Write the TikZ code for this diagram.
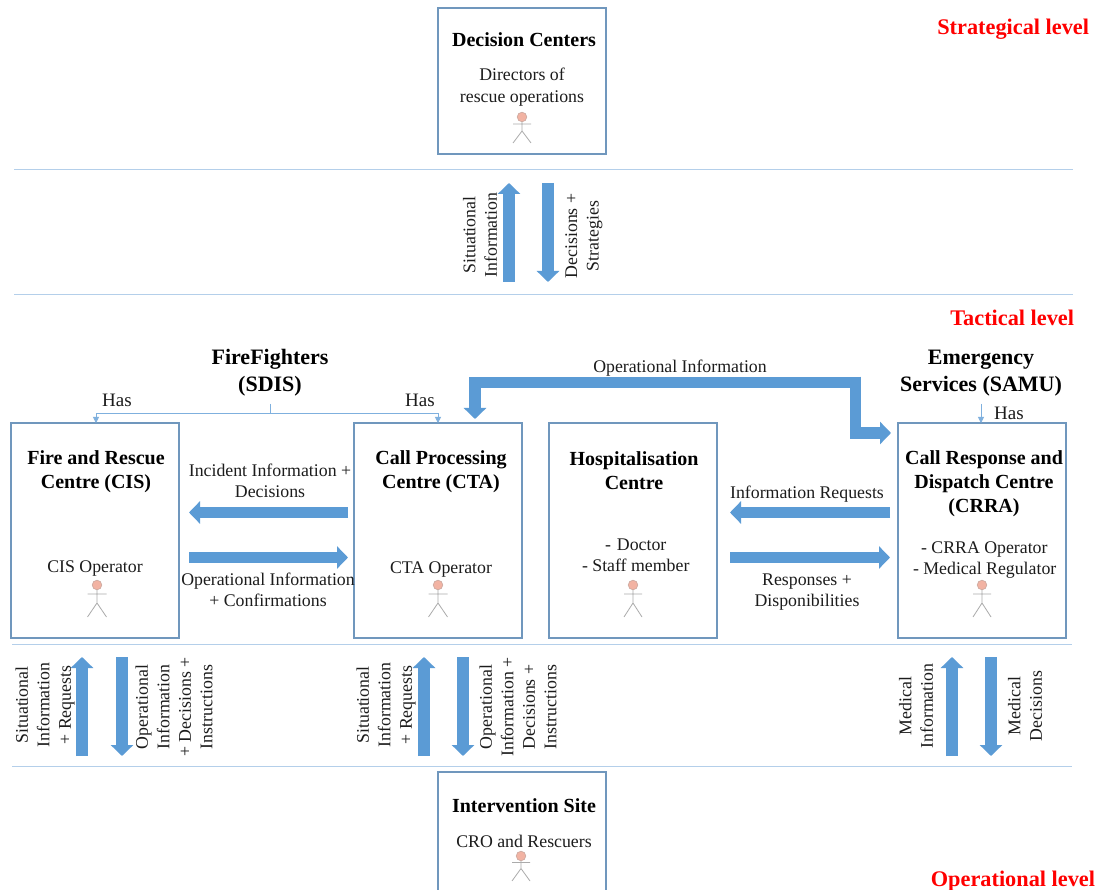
\documentclass[tikz,border=0pt]{standalone}
\usepackage{fontspec}
\setmainfont{Liberation Serif}
\usetikzlibrary{arrows.meta,calc}
\definecolor{blockblue}{HTML}{5B9BD5}
\definecolor{boxedge}{HTML}{7097BD}
\definecolor{sepline}{HTML}{B4CFEA}
\definecolor{thinblue}{HTML}{7FB0DE}
\definecolor{ink}{HTML}{1C1C1C}
\definecolor{headfill}{HTML}{F2B3A3}
\definecolor{headedge}{HTML}{C9A79E}
\definecolor{limb}{HTML}{ABABAB}
\tikzset{
  x=1pt,y=-1pt,
  every node/.style={text=ink,inner sep=0pt,outer sep=0pt},
  box/.style={draw=boxedge,line width=1.2pt,minimum width=168pt,minimum height=215pt,fill=white},
  title/.style={font=\fontsize{20}{24}\selectfont\bfseries,align=center,text=black},
  orgtitle/.style={title,font=\fontsize{22}{27}\selectfont\bfseries},
  txt/.style={font=\fontsize{17.8}{21.5}\selectfont,align=center},
  hastxt/.style={font=\fontsize{19}{22}\selectfont},
  vtxt/.style={txt,rotate=90},
  level/.style={font=\fontsize{22.3}{26}\selectfont\bfseries,text=red,anchor=east},
  sep/.style={draw=sepline,line width=1pt},
  thin link/.style={draw=thinblue,line width=.8pt},
  thin tip/.style={thin link,-{Triangle[length=6pt,width=6pt]}},
  blockarrow/.style={draw=blockblue,line width=11.5pt,-{Triangle[length=11pt,width=22pt]},color=blockblue},
  bendarrow/.style={blockarrow,line join=miter},
}
\newcommand{\actor}[6]{% x, head y, arms dy, hip dy, feet dy, half-width
  \draw[limb,line width=.8pt] (#1,#2) -- (#1,#2+#4) -- (#1-#6,#2+#5) (#1,#2+#4) -- (#1+#6,#2+#5)
     (#1-#6,#2+#3) -- (#1+#6,#2+#3);
  \draw[headedge,fill=headfill,line width=.6pt] (#1,#2) circle (4.8pt);
}
\begin{document}
\begin{tikzpicture}
\clip (0,0) rectangle (1096,890);
\fill[white] (0,0) rectangle (1096,890);
% separators
\coordinate (s1a) at (14,169.5);  \coordinate (s1b) at (1073,169.5);
\coordinate (s2a) at (14,294.5);  \coordinate (s2b) at (1073,294.5);
\coordinate (s3a) at (12,644.5);  \coordinate (s3b) at (1072,644.5);
\coordinate (s4a) at (12,766);  \coordinate (s4b) at (1072,766);
\draw[sep] (s1a) -- (s1b);
\draw[sep] (s2a) -- (s2b);
\draw[sep] (s3a) -- (s3b);
\draw[sep] (s4a) -- (s4b);
% boxes
\node[box,minimum height=146pt] (dc) at (522,81) {};
\node[box] (cis) at (95,530.5) {};
\node[box] (cta) at (438,530.5) {};
\node[box] (hosp) at (633,530.5) {};
\node[box] (crra) at (982,530.5) {};
\node[box,minimum height=146pt] (site) at (522,845) {};
% titles and roles
\node[title] (dct) at (524,40) {Decision Centers};
\node[txt,font=\fontsize{17.8}{22}\selectfont] (dcr) at (522,87) {Directors of\\rescue operations};
\node[title] (cist) at (96,472) {Fire and Rescue\\Centre (CIS)};
\node[txt] (cisr) at (95,569) {CIS Operator};
\node[title] (ctat) at (441,472) {Call Processing\\Centre (CTA)};
\node[txt] (ctar) at (441,570) {CTA Operator};
\node[title] (hospt) at (634,471) {Hospitalisation\\Centre};
\node[txt,align=left,anchor=west] (hospr) at (582,555.5) {\hspace*{23pt}-\hspace{6pt}Doctor\\- Staff member};
\node[title] (crrat) at (984,484) {Call Response and\\Dispatch Centre\\(CRRA)};
\node[txt,align=left,anchor=west] (crrar) at (913,560) {\hspace*{8pt}- CRRA Operator\\- Medical Regulator};
\node[title] (sitet) at (524,806) {Intervention Site};
\node[txt] (siter) at (524,841) {CRO and Rescuers};
% actors
\actor{522}{117}{7}{14}{26}{9}
\actor{97}{585}{9}{18}{32}{9.5}
\actor{438}{585}{9}{18}{32}{9.5}
\actor{633}{585}{9}{18}{32}{9}
\actor{982}{585}{9}{18}{32}{9}
\actor{521}{856}{6.5}{12.5}{25}{9}
% levels
\node[level] (l1) at (1089,29) {Strategical level};
\node[level] (l2) at (1074,317.5) {Tactical level};
\node[level] (l3) at (1095,881) {Operational level};
% organisations
\node[orgtitle] (sdis) at (270,373) {FireFighters\\(SDIS)};
\node[orgtitle] (samu) at (981,373) {Emergency\\Services (SAMU)};
\coordinate (sdisb) at (270,404);
\coordinate (sdisj) at (270,413);
\coordinate (samub) at (981,404);
\coordinate (samue) at (981,423);
\draw[thin link] (sdisb) -- (sdisj);
\draw[thin tip] (sdisj) -| (cis.north -| 96,0);
\draw[thin tip] (sdisj) -| (cta.north);
\draw[thin tip] (samub) -- (samue);
\node[hastxt] (has1) at (117,400) {Has};
\node[hastxt] (has2) at (420,400) {Has};
\node[hastxt] (has3) at (1009,413) {Has};
% operational information
\coordinate (opr) at (855.5,382.5);
\coordinate (opl) at (475,382.5);
\coordinate (optip) at (475,419);
\coordinate (opd) at (855.5,433);
\coordinate (optip2) at (891,433);
\draw[bendarrow] (opr) -- (opl) -- (optip);
\draw[bendarrow] ($(opr)+(0,-5.75)$) -- (opd) -- (optip2);
\node[txt] (opt) at (680,368) {Operational Information};
% horizontal flows
\coordinate (y1) at (0,512.5);
\coordinate (y2) at (0,557.5);
\draw[blockarrow,shorten <=6pt,shorten >=10pt] (cta.west |- y1) -- (cis.east |- y1);
\draw[blockarrow,shorten <=10pt,shorten >=6pt] (cis.east |- y2) -- (cta.west |- y2);
\draw[blockarrow,shorten <=8pt,shorten >=13pt] (crra.west |- y1) -- (hosp.east |- y1);
\draw[blockarrow,shorten <=13pt,shorten >=8pt] (hosp.east |- y2) -- (crra.west |- y2);
\node[txt] (l4) at (270,481) {Incident Information +\\Decisions};
\node[txt] (l5) at (268,590) {Operational Information\\+ Confirmations};
\node[txt] (l6) at (807,494) {Information Requests};
\node[txt] (l7) at (807,592) {Responses +\\Disponibilities};
% vertical flows
\coordinate (t1a) at (509,282); \coordinate (t1b) at (509,183);
\coordinate (t2a) at (548,183); \coordinate (t2b) at (548,282);
\draw[blockarrow] (t1a) -- (t1b);
\draw[blockarrow] (t2a) -- (t2b);
\node[vtxt] (v1) at (480,235) {Situational\\Information};
\node[vtxt] (v2) at (584,236) {Decisions +\\Strategies};
\coordinate (b1a) at (82,756); \coordinate (b1b) at (82,657);
\coordinate (b2a) at (122,657); \coordinate (b2b) at (122,756);
\coordinate (b3a) at (424,756); \coordinate (b3b) at (424,657);
\coordinate (b4a) at (463,657); \coordinate (b4b) at (463,756);
\coordinate (b5a) at (952,756); \coordinate (b5b) at (952,657);
\coordinate (b6a) at (991,657); \coordinate (b6b) at (991,756);
\draw[blockarrow] (b1a) -- (b1b);
\draw[blockarrow] (b2a) -- (b2b);
\draw[blockarrow] (b3a) -- (b3b);
\draw[blockarrow] (b4a) -- (b4b);
\draw[blockarrow] (b5a) -- (b5b);
\draw[blockarrow] (b6a) -- (b6b);
\node[vtxt] (v3) at (45,705) {Situational\\Information\\+ Requests};
\node[vtxt] (v4) at (174,707) {Operational\\Information\\+ Decisions +\\Instructions};
\node[vtxt] (v5) at (386,705) {Situational\\Information\\+ Requests};
\node[vtxt] (v6) at (518,707) {Operational\\Information +\\Decisions +\\Instructions};
\node[vtxt] (v7) at (916,706) {Medical\\Information};
\node[vtxt] (v8) at (1025,706) {Medical\\Decisions};
\end{tikzpicture}
\end{document}
